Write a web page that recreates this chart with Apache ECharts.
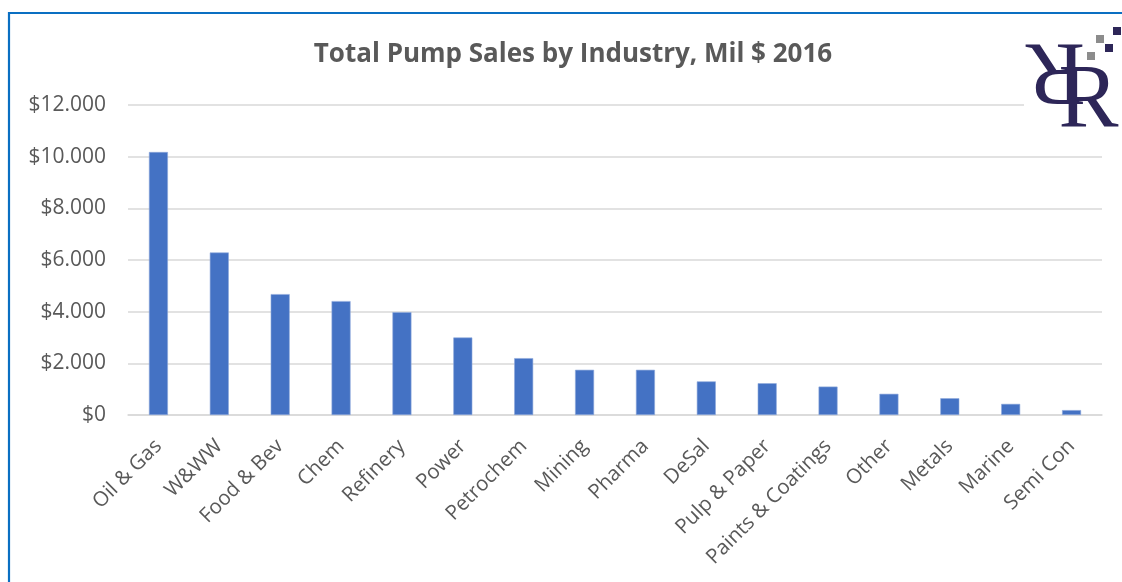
<!DOCTYPE html>
<html>
<head>
<meta charset="utf-8">
<script src="https://cdn.jsdelivr.net/npm/echarts@6/dist/echarts.min.js"></script>
<style>
  html, body { margin: 0; padding: 0; background: #ffffff; }
  #chart { width: 1122px; height: 582px; }
</style>
</head>
<body>
<div id="chart"></div>
<script>
// Pump sales by end-user industry, millions of dollars, 2016
const industries = ['Oil & Gas', 'W&WW', 'Food & Bev', 'Chem', 'Refinery', 'Power', 'Petrochem',
  'Mining', 'Pharma', 'DeSal', 'Pulp & Paper', 'Paints & Coatings', 'Other', 'Metals', 'Marine', 'Semi Con'];
const sales = [10180, 6290, 4680, 4410, 3980, 3000, 2200, 1750, 1750, 1300, 1230, 1100, 820, 650, 430, 190];
const chartTitle = 'Total Pump Sales by Industry, Mil $ 2016';

const FONT = '"Open Sans", "Noto Sans", sans-serif';
const SERIF = '"Liberation Serif", "DejaVu Serif", serif';
const TEXT_GREY = '#595959';
const LOGO_INK = '#2d2658';
const LOGO_GREY = '#8c8c8c';

// "$12.000" style: dot as thousands separator
function money(v) {
  const s = Math.round(v).toString().replace(/\B(?=(\d{3})+(?!\d))/g, '.');
  return '$' + s;
}

// monogram: an upright R and a half-turned R sharing one stem
const monogram = [
  { x: 1088.5, y: 103, rotation: 0 },
  { x: 1055.5, y: 68, rotation: Math.PI }
].map(function (g) {
  return {
    type: 'text',
    x: g.x, y: g.y,
    rotation: g.rotation,
    style: {
      text: 'R', fontFamily: SERIF, fontSize: 90, fill: LOGO_INK,
      align: 'center', verticalAlign: 'middle'
    },
    silent: true,
    z: 95
  };
});

// checkered squares beside the monogram
const squares = [
  { x: 1113, y: 27, c: LOGO_INK },
  { x: 1096, y: 35, c: LOGO_GREY },
  { x: 1105, y: 44, c: LOGO_INK },
  { x: 1087, y: 52, c: LOGO_GREY }
].map(function (s) {
  return {
    type: 'rect',
    shape: { x: s.x, y: s.y, width: 8, height: 8 },
    style: { fill: s.c },
    silent: true,
    z: 96
  };
});

const chart = echarts.init(document.getElementById('chart'), null, { renderer: 'canvas' });

chart.setOption({
  animation: false,
  backgroundColor: '#ffffff',
  title: {
    text: chartTitle,
    left: 568,
    top: 37,
    textAlign: 'center',
    textStyle: { fontFamily: FONT, fontSize: 26, fontWeight: 'bold', color: TEXT_GREY }
  },
  grid: { left: 128, right: 20, top: 105, bottom: 167, containLabel: false },
  xAxis: {
    type: 'category',
    data: industries,
    axisLine: { show: true, lineStyle: { color: '#d9d9d9', width: 1.5 } },
    axisTick: { show: false },
    axisLabel: {
      interval: 0,
      rotate: 45,
      margin: 28,
      fontFamily: FONT,
      fontSize: 20.5,
      color: TEXT_GREY
    }
  },
  yAxis: {
    type: 'value',
    min: 0,
    max: 12000,
    interval: 2000,
    axisLine: { show: false },
    axisTick: { show: false },
    splitLine: { lineStyle: { color: '#d9d9d9', width: 1.5 } },
    axisLabel: {
      margin: 22,
      fontFamily: FONT,
      fontSize: 21,
      color: TEXT_GREY,
      formatter: money
    }
  },
  series: [{
    type: 'bar',
    data: sales,
    barWidth: 19,
    itemStyle: { color: '#4472c4', borderColor: '#8eaadb', borderWidth: 0.6 }
  }],
  graphic: [
    // chart frame
    {
      type: 'rect',
      shape: { x: 9, y: 13, width: 1140, height: 620 },
      style: { fill: 'none', stroke: '#0a6fc2', lineWidth: 2.2 },
      silent: true,
      z: 100
    },
    // logo backdrop
    {
      type: 'rect',
      shape: { x: 1024, y: 22, width: 97, height: 112 },
      style: { fill: '#ffffff' },
      silent: true,
      z: 90
    }
  ].concat(monogram, squares)
});
</script>
</body>
</html>
